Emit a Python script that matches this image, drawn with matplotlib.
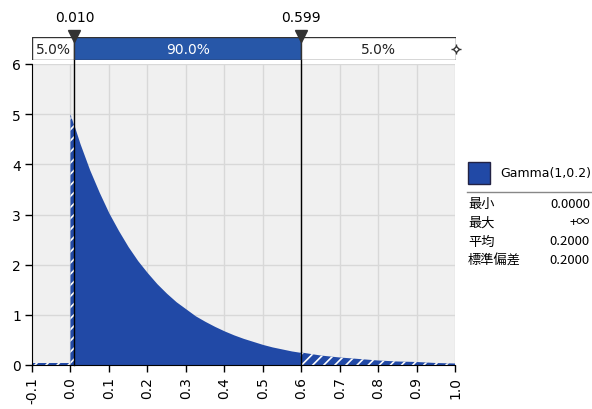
import matplotlib.pyplot as plt
import numpy as np

# density (Gamma(1,0.2))
x_vals = [0.0, 0.025, 0.05, 0.075, 0.1, 0.125, 0.15, 0.175, 0.2, 0.225, 0.25,
          0.275, 0.3, 0.325, 0.35, 0.375, 0.4, 0.425, 0.45, 0.475, 0.5, 0.525,
          0.55, 0.575, 0.6, 0.65, 0.7, 0.75, 0.8, 0.85, 0.9, 0.95, 1.0]
dens = [5.00, 4.41, 3.89, 3.44, 3.03, 2.68, 2.36, 2.08, 1.84, 1.62, 1.43,
        1.26, 1.12, 0.98, 0.87, 0.77, 0.68, 0.60, 0.53, 0.47, 0.41, 0.36,
        0.32, 0.28, 0.25, 0.19, 0.15, 0.12, 0.09, 0.07, 0.06, 0.04, 0.03]
left_x = [-0.1, 0.0]
left_dens = [0.03, 0.03]

lo, hi = 0.010, 0.599
band_pcts = ["5.0%", "90.0%", "5.0%"]
xticks = [-0.1, 0.0, 0.1, 0.2, 0.3, 0.4, 0.5, 0.6, 0.7, 0.8, 0.9, 1.0]
yticks = [0, 1, 2, 3, 4, 5, 6]
stat_names = ["最小", "最大", "平均", "標準偏差"]
stat_vals = ["0.0000", "+∞", "0.2000", "0.2000"]

blue = "#2149a6"
plt.rcParams['hatch.color'] = 'white'
plt.rcParams['hatch.linewidth'] = 1.2
cjk = ['Noto Sans CJK JP', 'DejaVu Sans']

fig = plt.figure(figsize=(5.92, 4.10), dpi=100)
W, H = 592, 410
ax = fig.add_axes([32 / W, 44 / H, 423 / W, 301 / H])
ax.set_facecolor("#f0f0f0")

x = np.array(x_vals)
y = np.array(dens)

mid = (x >= lo) & (x <= hi)
xm = np.concatenate([[lo], x[mid], [hi]])
ym = np.interp(xm, x, y)
ax.fill_between(xm, 0, ym, color=blue, lw=0, zorder=2)

for a, b in [(0.0, lo), (hi, 1.0)]:
    sel = (x > a) & (x < b)
    xh = np.concatenate([[a], x[sel], [b]])
    yh = np.interp(xh, x, y)
    ax.fill_between(xh, 0, yh, facecolor=blue, edgecolor='white', hatch='///',
                    lw=0, zorder=2)
ax.fill_between(left_x, 0, left_dens, facecolor=blue, edgecolor='white',
                hatch='///', lw=0, zorder=2)

ax.set_xlim(-0.1, 1.0)
ax.set_ylim(0, 6)
ax.set_xticks(xticks)
ax.set_xticklabels(["%.1f" % v for v in xticks], rotation=90, fontsize=10)
ax.set_yticks(yticks)
ax.set_yticklabels([str(v) for v in yticks], fontsize=10)
ax.grid(True, color="#d8d8d8", lw=1, zorder=1)
ax.set_axisbelow(True)
for s in ["top", "right"]:
    ax.spines[s].set_visible(False)
ax.tick_params(direction='out', length=5, width=1, pad=3)

ext = 1 + (65 - 38) / 301
for v in [lo, hi]:
    ax.axvline(v, ymin=0, ymax=ext, color='black', lw=1, clip_on=False, zorder=5)

# top band
bx = fig.add_axes([32 / W, 349 / H, 424 / W, 23 / H])
bx.set_xlim(-0.1, 1.0)
bx.set_ylim(0, 1)
bx.axis('off')
edges = [-0.1, lo, hi, 1.0]
colors = ['white', '#2757a8', 'white']
for i in range(3):
    bx.add_patch(plt.Rectangle((edges[i], 0), edges[i + 1] - edges[i], 1,
                               facecolor=colors[i], edgecolor='#333333', lw=1))
    bx.text((edges[i] + edges[i + 1]) / 2, 0.48, band_pcts[i], ha='center',
            va='center', fontsize=10,
            color='white' if i == 1 else '#222222')
for v in [lo, hi]:
    bx.plot([v], [1.05], marker='v', ms=9, color='#333333', clip_on=False)
    bx.text(v, 1.55, "%.3f" % v, ha='center', va='bottom', fontsize=10)
bx.plot([1.0], [0.5], marker='+', ms=7, color='#333333', clip_on=False)
bx.plot([1.0], [0.5], marker='D', ms=3, mfc='white', mec='#333333', clip_on=False)

# legend panel
fig.patches.append(plt.Rectangle((468 / W, (H - 185) / H), 22 / W, 22 / H,
                                 transform=fig.transFigure, facecolor=blue,
                                 edgecolor='#222244', lw=1))
fig.text(500 / W, (H - 174) / H, "Gamma(1,0.2)", fontsize=9, va='center')
fig.add_artist(plt.Line2D([467 / W, 592 / W], [(H - 193) / H] * 2,
                          transform=fig.transFigure, color='#888888', lw=1))
row_y = [205, 223, 242, 261]
for name, val, ry in zip(stat_names, stat_vals, row_y):
    fig.text(468 / W, (H - ry) / H, name, fontsize=9.5, va='center', family=cjk)
    fig.text(590 / W, (H - ry) / H, val, fontsize=9.5, va='center', ha='right',
             family=cjk)

fig.savefig("out.png", dpi=100)
